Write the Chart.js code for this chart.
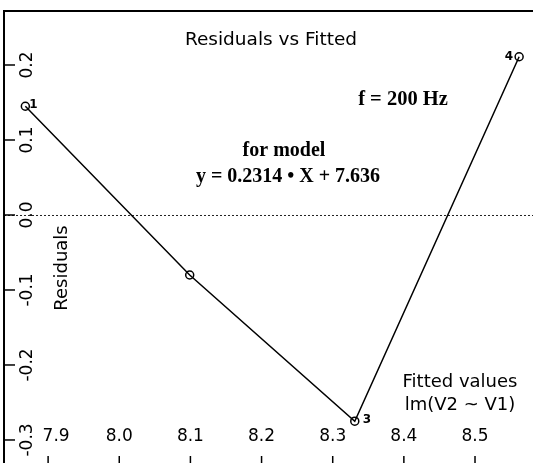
<!DOCTYPE html>
<html>
<head>
<meta charset="utf-8">
<script src="https://cdn.jsdelivr.net/npm/chart.js@4"></script>
<style>
  html, body { margin: 0; padding: 0; background: #fff; }
  #wrap { width: 533px; height: 463px; }
</style>
</head>
<body>
<div id="wrap"><canvas id="resid-chart" width="533" height="463"></canvas></div>
<script>
// fitted values and residuals
var fittedValues = [7.868, 8.099, 8.331, 8.562];
var residuals = [0.145, -0.080, -0.275, 0.211];
var pointNames = ['1', '', '3', '4'];

var xTicks = [7.9, 8.0, 8.1, 8.2, 8.3, 8.4, 8.5];
var xTickLabels = ['7.9', '8.0', '8.1', '8.2', '8.3', '8.4', '8.5'];
var yTicks = [0.2, 0.1, 0.0, -0.1, -0.2, -0.3];
var yTickLabels = ['0.2', '0.1', '0.0', '-0.1', '-0.2', '-0.3'];

var sans = '"DejaVu Sans", Arial, sans-serif';
var serif = '"Liberation Serif", "Times New Roman", serif';

var points = fittedValues.map(function(v, i) {
    return { x: v, y: residuals[i] };
});

// R-style axes, reference line and annotations
var rPlotDecor = {
    id: 'rPlotDecor',
    beforeDatasetsDraw: function(chart) {
        var ctx = chart.ctx;
        var area = chart.chartArea;
        var xs = chart.scales.x;
        var ys = chart.scales.y;
        ctx.save();

        // dotted zero line
        var y0 = ys.getPixelForValue(0);
        ctx.strokeStyle = '#222';
        ctx.lineWidth = 1;
        ctx.setLineDash([2, 2]);
        ctx.beginPath();
        ctx.moveTo(area.left, y0 + 0.5);
        ctx.lineTo(area.right, y0 + 0.5);
        ctx.stroke();
        ctx.setLineDash([]);

        // frame (top and left)
        ctx.strokeStyle = '#000';
        ctx.lineWidth = 2;
        ctx.beginPath();
        ctx.moveTo(area.right, area.top);
        ctx.lineTo(area.left, area.top);
        ctx.lineTo(area.left, area.bottom);
        ctx.stroke();

        // y ticks + rotated labels
        ctx.lineWidth = 1.5;
        ctx.fillStyle = '#000';
        ctx.font = '17px ' + sans;
        ctx.textAlign = 'center';
        ctx.textBaseline = 'middle';
        yTicks.forEach(function(t, i) {
            var py = ys.getPixelForValue(t);
            ctx.beginPath();
            ctx.moveTo(area.left, py);
            ctx.lineTo(area.left + 11, py);
            ctx.stroke();
            ctx.save();
            ctx.translate(area.left + 24, py);
            ctx.rotate(-Math.PI / 2);
            ctx.fillText(yTickLabels[i], 0, 0);
            ctx.restore();
        });

        // x ticks + labels
        xTicks.forEach(function(t, i) {
            var px = xs.getPixelForValue(t);
            ctx.beginPath();
            ctx.moveTo(px, area.bottom - 7);
            ctx.lineTo(px, area.bottom);
            ctx.stroke();
            var shift = i === 0 ? 8 : 0;
            ctx.fillText(xTickLabels[i], px + shift, area.bottom - 26);
        });

        // axis titles
        ctx.font = '18px ' + sans;
        ctx.save();
        ctx.translate(62, 268);
        ctx.rotate(-Math.PI / 2);
        ctx.fillText('Residuals', 0, 0);
        ctx.restore();

        ctx.font = '18.5px ' + sans;
        ctx.fillText('Residuals vs Fitted', 271, 40);
        ctx.font = '18px ' + sans;
        ctx.fillText('Fitted values', 460, 382);
        ctx.fillText('lm(V2 ~ V1)', 460, 405);

        ctx.font = 'bold 20.5px ' + serif;
        ctx.fillText('f = 200 Hz', 403, 100);
        ctx.font = 'bold 20px ' + serif;
        ctx.fillText('for model', 284, 151);
        ctx.fillText('y = 0.2314 \u2022 X + 7.636', 288, 177);

        ctx.restore();
    },
    afterDatasetsDraw: function(chart) {
        var ctx = chart.ctx;
        var meta = chart.getDatasetMeta(0);
        ctx.save();
        ctx.fillStyle = '#000';
        ctx.font = 'bold 12px ' + sans;
        ctx.textBaseline = 'middle';
        meta.data.forEach(function(el, i) {
            var name = pointNames[i];
            if (!name) return;
            if (i === meta.data.length - 1) {
                ctx.textAlign = 'right';
                ctx.fillText(name, el.x - 6, el.y);
            } else if (i === 0) {
                ctx.textAlign = 'left';
                ctx.fillText(name, el.x + 4, el.y - 1);
            } else {
                ctx.textAlign = 'left';
                ctx.fillText(name, el.x + 8, el.y - 1);
            }
        });
        ctx.restore();
    }
};

new Chart(document.getElementById('resid-chart'), {
    type: 'scatter',
    data: {
        datasets: [{
            label: 'Residuals',
            data: points,
            showLine: true,
            borderColor: '#000',
            borderWidth: 1.5,
            tension: 0,
            pointStyle: 'circle',
            pointRadius: 4,
            pointBorderWidth: 1.5,
            pointBorderColor: '#000',
            pointBackgroundColor: 'rgba(0,0,0,0)',
            clip: false
        }]
    },
    options: {
        responsive: false,
        animation: false,
        layout: { autoPadding: false, padding: { left: 4, top: 11, right: 0, bottom: 0 } },
        scales: {
            x: { type: 'linear', display: false, min: 7.838, max: 8.5815 },
            y: { type: 'linear', display: false, min: -0.3307, max: 0.272 }
        },
        plugins: {
            legend: { display: false },
            tooltip: { enabled: false }
        }
    },
    plugins: [rPlotDecor]
});
</script>
</body>
</html>
